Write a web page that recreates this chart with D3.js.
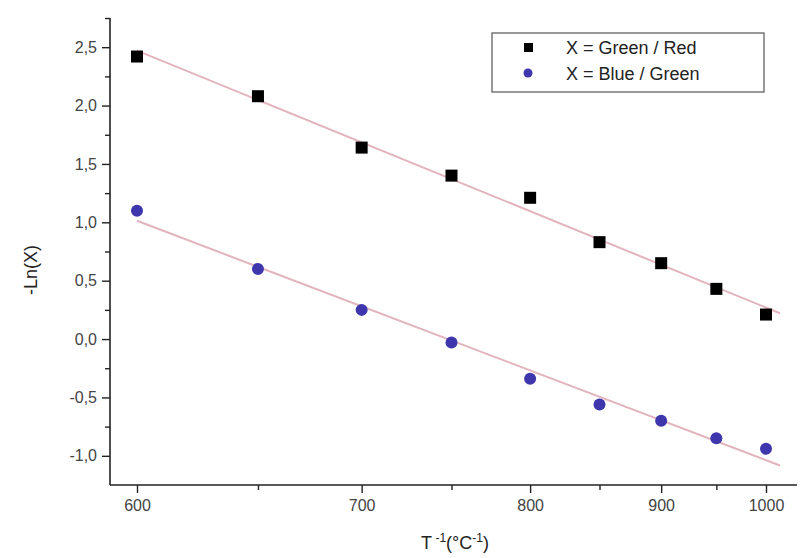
<!DOCTYPE html>
<html>
<head>
<meta charset="utf-8">
<script src="https://d3js.org/d3.v7.min.js"></script>
<style>
  body { margin: 0; background: #fff; }
  text { font-family: "Liberation Sans", Arial, sans-serif; }
</style>
</head>
<body>
<script>
// data
var temps = [600, 650, 700, 750, 800, 850, 900, 950, 1000];
var greenRed = [2.42, 2.08, 1.64, 1.40, 1.21, 0.83, 0.65, 0.43, 0.21];
var blueGreen = [1.10, 0.60, 0.25, -0.03, -0.34, -0.56, -0.70, -0.85, -0.94];
var xMajor = [600, 700, 800, 900, 1000];
var xMinor = [650, 750, 850, 950];
var yMajor = [-1.0, -0.5, 0.0, 0.5, 1.0, 1.5, 2.0, 2.5];
var yMinor = [-0.75, -0.25, 0.25, 0.75, 1.25, 1.75, 2.25, 2.75];
var legendLabels = ["X = Green / Red", "X = Blue / Green"];

var width = 800, height = 558;
var axisLeft = 110, axisBottom = 485, axisRight = 797, axisTop = 18;

var svg = d3.select("body").append("svg")
    .attr("width", width)
    .attr("height", height);

// x is linear in 1/T
var x = d3.scalePow().exponent(-1).domain([600, 1000]).range([137, 766]);
var y = d3.scaleLinear().domain([-1.25, 2.75]).range([axisBottom, axisTop]);

function fmt(d) { return d.toFixed(1).replace(".", ","); }

// fitted lines (least squares in 1/T)
function fit(vals) {
  var u = temps.map(function(t) { return 1 / t; });
  var mu = d3.mean(u), mv = d3.mean(vals);
  var num = d3.sum(u, function(d, i) { return (d - mu) * (vals[i] - mv); });
  var den = d3.sum(u, function(d) { return (d - mu) * (d - mu); });
  var b = num / den, a = mv - b * mu;
  return function(t) { return a + b / t; };
}
var ends = [600, 1015];
[greenRed, blueGreen].forEach(function(vals) {
  var f = fit(vals);
  svg.append("line")
    .attr("x1", x(ends[0])).attr("y1", y(f(ends[0])))
    .attr("x2", x(ends[1])).attr("y2", y(f(ends[1])))
    .attr("stroke", "#e2b4bd")
    .attr("stroke-width", 2);
});

// axes
var gx = svg.append("g").attr("transform", "translate(0," + axisBottom + ")");
gx.append("g").call(d3.axisBottom(x).tickValues(xMajor).tickSize(8).tickPadding(7).tickFormat(d3.format("d")))
  .call(function(g) { g.select(".domain").remove(); });
gx.append("g").call(d3.axisBottom(x).tickValues(xMinor).tickSize(5).tickFormat(""))
  .call(function(g) { g.select(".domain").remove(); });
gx.append("line").attr("x1", axisLeft).attr("x2", axisRight).attr("stroke", "#222").attr("stroke-width", 1.6);

var gy = svg.append("g").attr("transform", "translate(" + axisLeft + ",0)");
gy.append("g").call(d3.axisLeft(y).tickValues(yMajor).tickSize(8).tickPadding(5).tickFormat(fmt))
  .call(function(g) { g.select(".domain").remove(); });
gy.append("g").call(d3.axisLeft(y).tickValues(yMinor).tickSize(5).tickFormat(""))
  .call(function(g) { g.select(".domain").remove(); });
gy.append("line").attr("y1", axisTop).attr("y2", axisBottom).attr("stroke", "#222").attr("stroke-width", 1.6);

svg.selectAll(".tick line").attr("stroke", "#222").attr("stroke-width", 1.4);
svg.selectAll(".tick text").attr("fill", "#444").style("font-size", "16px");

// points
svg.selectAll(".sq").data(temps).enter().append("rect")
  .attr("x", function(d) { return x(d) - 6; })
  .attr("y", function(d, i) { return y(greenRed[i]) - 6; })
  .attr("width", 12).attr("height", 12)
  .attr("fill", "#000");

svg.selectAll(".dot").data(temps).enter().append("circle")
  .attr("cx", function(d) { return x(d); })
  .attr("cy", function(d, i) { return y(blueGreen[i]); })
  .attr("r", 6)
  .attr("fill", "#3d36ad");

// axis titles
svg.append("text")
  .attr("transform", "translate(37,270) rotate(-90)")
  .attr("text-anchor", "middle")
  .attr("fill", "#222")
  .style("font-size", "18px")
  .text("-Ln(X)");

var xt = svg.append("text")
  .attr("x", 455).attr("y", 549)
  .attr("text-anchor", "middle")
  .attr("fill", "#222")
  .style("font-size", "18px");
xt.append("tspan").text("T");
xt.append("tspan").attr("dy", -7).style("font-size", "12px").text(" -1");
xt.append("tspan").attr("dy", 7).text("(°C");
xt.append("tspan").attr("dy", -7).style("font-size", "12px").text("-1");
xt.append("tspan").attr("dy", 7).text(")");

// legend
var lg = svg.append("g");
lg.append("rect")
  .attr("x", 492).attr("y", 33).attr("width", 272).attr("height", 59)
  .attr("fill", "#fff").attr("stroke", "#555").attr("stroke-width", 1.2);
lg.append("rect").attr("x", 524).attr("y", 43).attr("width", 9).attr("height", 9).attr("fill", "#000");
lg.append("circle").attr("cx", 528).attr("cy", 73).attr("r", 4.5).attr("fill", "#3d36ad");
lg.selectAll(".lt").data(legendLabels).enter().append("text")
  .attr("x", 566)
  .attr("y", function(d, i) { return 54 + i * 26; })
  .attr("fill", "#222")
  .style("font-size", "18px")
  .text(function(d) { return d; });
</script>
</body>
</html>
